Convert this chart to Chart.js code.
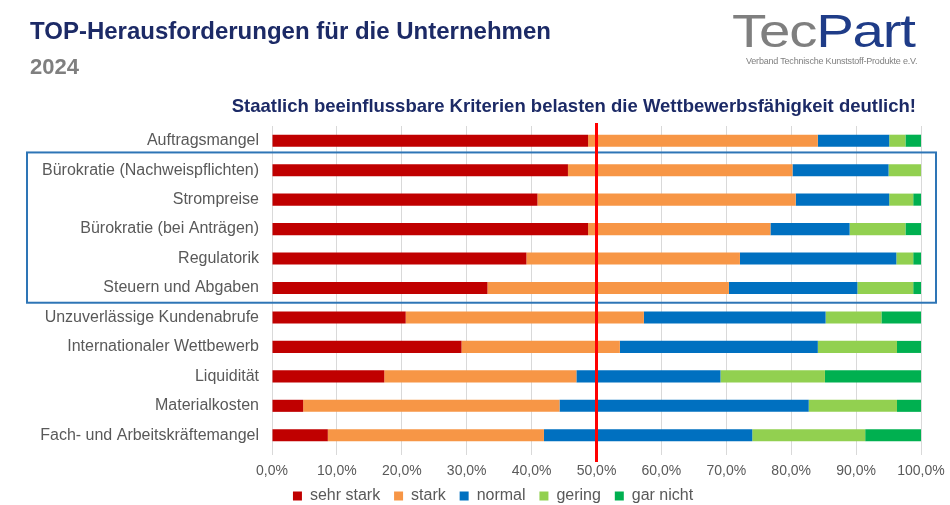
<!DOCTYPE html>
<html>
<head>
<meta charset="utf-8">
<script src="https://cdn.jsdelivr.net/npm/chart.js@4.4.1/dist/chart.umd.min.js"></script>
<style>
  body { margin: 0; padding: 0; background: #fff; font-family: "Liberation Sans", Arial, sans-serif; }
  #page { position: relative; width: 950px; height: 505px; overflow: hidden; }
  #title { position: absolute; left: 30px; top: 17px; font-size: 24px; font-weight: bold; color: #1c2a66; }
  #year { position: absolute; left: 30px; top: 54px; font-size: 22px; font-weight: bold; color: #7f7f7f; }
  #subtitle { position: absolute; right: 34px; top: 95px; font-size: 18.5px; font-weight: bold; color: #1c2a66; white-space: nowrap; }
  #logo { position: absolute; left: 732px; top: 6px; width: 190px; }
  #logo .big { font-size: 47px; letter-spacing: -1px; line-height: 50px; transform: scaleX(1.2); transform-origin: left center; white-space: nowrap; }
  #logo .tec { color: #7f7f7f; }
  #logo .part { color: #1f3c88; }
  #logo .small { font-size: 9px; color: #808080; margin-left: 14px; margin-top: 0px; letter-spacing: -0.2px; white-space: nowrap; }
  #chartWrap { position: absolute; left: 0; top: 0; width: 950px; height: 505px; }
</style>
</head>
<body>
<div id="page">
  <div id="chartWrap"><canvas id="chart"></canvas></div>
  <div id="title">TOP-Herausforderungen für die Unternehmen</div>
  <div id="year">2024</div>
  <div id="logo">
    <div class="big"><span class="tec">Tec</span><span class="part">Part</span></div>
    <div class="small">Verband Technische Kunststoff-Produkte e.V.</div>
  </div>
  <div id="subtitle">Staatlich beeinflussbare Kriterien belasten die Wettbewerbsfähigkeit deutlich!</div>
</div>
<script>
// ─── Data (percent of answers) ───────────────────────────────────────────────
var categories = [
  'Auftragsmangel',
  'Bürokratie (Nachweispflichten)',
  'Strompreise',
  'Bürokratie (bei Anträgen)',
  'Regulatorik',
  'Steuern und Abgaben',
  'Unzuverlässige Kundenabrufe',
  'Internationaler Wettbewerb',
  'Liquidität',
  'Materialkosten',
  'Fach- und Arbeitskräftemangel'
];
var sehrStark = [48.7, 45.6, 40.9, 48.7, 39.2, 33.2, 20.6, 29.2, 17.3, 4.8, 8.6];
var stark     = [35.4, 34.6, 39.8, 28.1, 32.9, 37.2, 36.7, 24.4, 29.6, 39.5, 33.3];
var normal    = [11.0, 14.8, 14.4, 12.2, 24.1, 19.8, 28.0, 30.5, 22.2, 38.4, 32.1];
var gering    = [2.5, 5.0, 3.7, 8.6, 2.6, 8.6, 8.6, 12.2, 16.1, 13.6, 17.4];
var garNicht  = [2.4, 0.0, 1.2, 2.4, 1.2, 1.2, 6.1, 3.7, 14.8, 3.7, 8.6];

var seriesNames = ['sehr stark', 'stark', 'normal', 'gering', 'gar nicht'];
var seriesColors = ['#c00000', '#f79646', '#0070c0', '#92d050', '#00b050'];
var xTicks = [0, 10, 20, 30, 40, 50, 60, 70, 80, 90, 100];

var threshold = 50;          // red marker line
var highlightFrom = 1;       // first boxed category
var highlightTo = 5;         // last boxed category
var legendShift = 32;        // legend sits right of centre in the original

// ─── Plugins ─────────────────────────────────────────────────────────────────
var overlayPlugin = {
  id: 'overlay',
  afterLayout: function(chart) {
    if (chart.legend) {
      chart.legend.left += legendShift;
      chart.legend.right += legendShift;
    }
  },
  afterDatasetsDraw: function(chart) {
    var ctx = chart.ctx;
    var x = chart.scales.x;
    var y = chart.scales.y;
    var step = y.getPixelForValue(1) - y.getPixelForValue(0);

    // highlight box round the state-influenced criteria
    var top = y.getPixelForValue(highlightFrom) - step / 2 - 3;
    var bottom = y.getPixelForValue(highlightTo) + step / 2;
    ctx.save();
    ctx.strokeStyle = '#2e75b6';
    ctx.lineWidth = 2;
    ctx.strokeRect(27, top, 909, bottom - top);

    // 50% line
    var xp = x.getPixelForValue(threshold);
    ctx.beginPath();
    ctx.strokeStyle = '#ff0000';
    ctx.lineWidth = 3;
    ctx.moveTo(xp, chart.chartArea.top - 3);
    ctx.lineTo(xp, chart.chartArea.bottom + 12);
    ctx.stroke();
    ctx.restore();
  }
};

var datasets = [sehrStark, stark, normal, gering, garNicht].map(function(values, i) {
  return {
    label: seriesNames[i],
    data: values,
    backgroundColor: seriesColors[i],
    borderWidth: 0,
    barPercentage: 0.41,
    categoryPercentage: 1.0
  };
});

new Chart(document.getElementById('chart'), {
  type: 'bar',
  plugins: [overlayPlugin],
  data: { labels: categories, datasets: datasets },
  options: {
    indexAxis: 'y',
    responsive: true,
    maintainAspectRatio: false,
    animation: false,
    layout: { padding: { top: 126, left: 10, right: 29, bottom: -9 } },
    plugins: {
      legend: {
        position: 'bottom',
        labels: {
          boxWidth: 9,
          boxHeight: 9,
          padding: 5,
          color: '#595959',
          font: { size: 16, family: 'Liberation Sans, Arial, sans-serif' },
          generateLabels: function(chart) {
            var items = Chart.defaults.plugins.legend.labels.generateLabels(chart);
            items.forEach(function(it) { it.text = it.text + '  '; });
            return items;
          }
        }
      },
      tooltip: { enabled: false }
    },
    scales: {
      x: {
        stacked: true,
        min: 0,
        max: 100,
        afterBuildTicks: function(scale) {
          scale.ticks = xTicks.map(function(v) { return { value: v }; });
        },
        afterFit: function(scale) {
          scale.height = 33;
          scale.paddingLeft = 0;
          scale.paddingRight = 0;
        },
        ticks: {
          color: '#595959',
          padding: 8,
          font: { size: 14, family: 'Liberation Sans, Arial, sans-serif' },
          callback: function(v) { return v.toFixed(1).replace('.', ',') + '%'; }
        },
        grid: { color: '#d9d9d9', lineWidth: 1, tickLength: 5, drawTicks: true },
        border: { display: false }
      },
      y: {
        stacked: true,
        afterFit: function(scale) { scale.width = 262; },
        ticks: {
          color: '#595959',
          padding: 5,
          font: { size: 16, family: 'Liberation Sans, Arial, sans-serif' }
        },
        grid: { display: false },
        border: { display: true, color: '#d9d9d9' }
      }
    }
  }
});
</script>
</body>
</html>
